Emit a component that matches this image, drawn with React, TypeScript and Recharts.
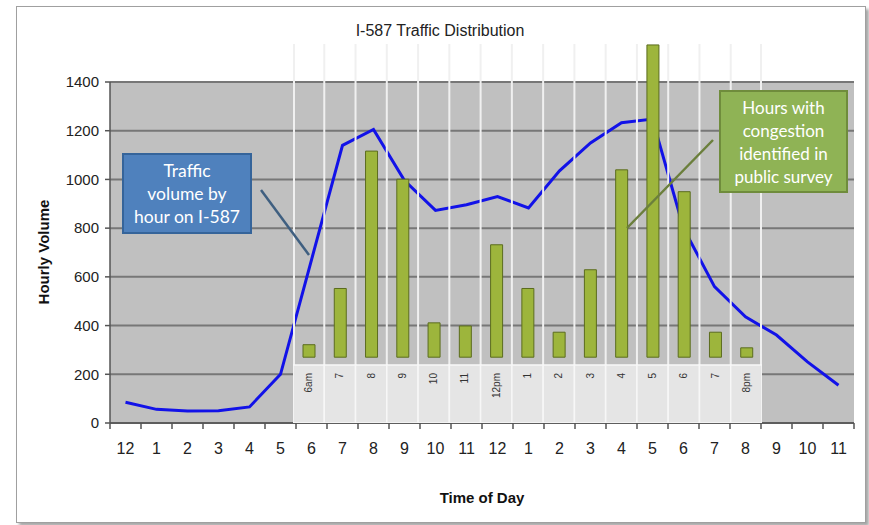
import { ComposedChart, Line, Bar, XAxis, YAxis, CartesianGrid } from 'recharts';

// Hourly traffic on I-587 (line) and survey congestion hours (bars)
const HOURS = ['12', '1', '2', '3', '4', '5', '6', '7', '8', '9', '10', '11', '12', '1', '2', '3', '4', '5', '6', '7', '8', '9', '10', '11'];
const VOLUME = [85, 56, 49, 50, 66, 200, 670, 1140, 1205, 995, 873, 896, 930, 883, 1035, 1150, 1233, 1248, 800, 560, 436, 361, 251, 155];
const Y_TICKS = [0, 200, 400, 600, 800, 1000, 1200, 1400];

const SURVEY_LABELS = ['6am', '7', '8', '9', '10', '11', '12pm', '1', '2', '3', '4', '5', '6', '7', '8pm'];
const SURVEY_SHARE = [4, 22, 66, 57, 11, 10, 36, 22, 8, 28, 60, 100, 53, 8, 3];

const FONT = '"Liberation Sans", Arial, sans-serif';
const CALLOUT_FONT = 'Lato, "Open Sans", sans-serif';

const volumeData = HOURS.map((h, i) => ({ hour: `${h}-${i}`, label: h, volume: VOLUME[i] }));
const surveyData = SURVEY_LABELS.map((l, i) => ({ label: `${l}-${i}`, text: l, share: SURVEY_SHARE[i] }));

const MAIN_BAND = 744 / HOURS.length;
const OVER_W = 469;
const OVER_H = 379;
const OVER_BAND = OVER_W / SURVEY_LABELS.length;

function HourTick({ x, y, payload, index }: any) {
  const half = MAIN_BAND / 2;
  return (
    <g>
      <line x1={x - half} x2={x - half} y1={y} y2={y + 6} stroke="#555" strokeWidth={1.5} />
      {index === HOURS.length - 1 && (
        <line x1={x + half} x2={x + half} y1={y} y2={y + 6} stroke="#555" strokeWidth={1.5} />
      )}
      <text x={x} y={y + 31} textAnchor="middle" fontSize={16} fill="#222" fontFamily={FONT}>
        {volumeData[index]?.label ?? payload.value}
      </text>
    </g>
  );
}

function SurveyTick({ x, y, index }: any) {
  const half = OVER_BAND / 2;
  return (
    <g>
      <rect x={x - half} y={y} width={OVER_BAND} height={58} fill="#e5e5e5" stroke="#f7f7f7" strokeWidth={1.5} />
      <text
        transform={`translate(${x},${y + 8}) rotate(-90)`}
        textAnchor="end"
        dominantBaseline="central"
        fontSize={10}
        fill="#333"
        fontFamily={FONT}
      >
        {surveyData[index]?.text}
      </text>
    </g>
  );
}

export default function App() {
  return (
    <div style={{ position: 'absolute', left: 0, top: 0, width: 869, height: 525, background: '#fff', fontFamily: FONT }}>
      <div
        style={{
          position: 'absolute', left: 16, top: 6, width: 848, height: 515,
          border: '1px solid #a0a0a0', boxShadow: '3px 3px 3px rgba(0,0,0,0.35)',
        }}
      />
      <div style={{ position: 'absolute', left: 0, top: 0 }}>
        <ComposedChart width={869} height={525} data={volumeData} margin={{ top: 82, right: 15, left: 50, bottom: 72 }}>
          <CartesianGrid fill="#c0c0c0" vertical={false} stroke="#777" strokeWidth={2} />
          <XAxis
            dataKey="hour"
            scale="band"
            interval={0}
            tickLine={false}
            tickSize={0}
            tickMargin={0}
            height={30}
            axisLine={{ stroke: '#555', strokeWidth: 1.5 }}
            tick={<HourTick />}
          />
          <YAxis
            domain={[0, 1400]}
            ticks={Y_TICKS}
            width={60}
            tickSize={5}
            tickMargin={6}
            tick={{ fontSize: 15, fill: '#222', fontFamily: FONT }}
            tickLine={{ stroke: '#555', strokeWidth: 1.5 }}
            axisLine={{ stroke: '#555', strokeWidth: 1.5 }}
          />
          <Line dataKey="volume" stroke="#1212e8" strokeWidth={3} dot={false} isAnimationActive={false} />
        </ComposedChart>
      </div>

      <div style={{ position: 'absolute', left: 293, top: 44 }}>
        <ComposedChart width={OVER_W} height={OVER_H} data={surveyData} margin={{ top: 0, right: 0, left: 0, bottom: 0 }}>
          <CartesianGrid
            horizontal={false}
            stroke="#f0f0f0"
            strokeWidth={2}
            verticalCoordinatesGenerator={() =>
              Array.from({ length: SURVEY_LABELS.length + 1 }, (_, i) => Math.min(Math.max(i * OVER_BAND, 1), OVER_W - 1))
            }
          />
          <XAxis
            dataKey="label"
            interval={0}
            height={58}
            tickLine={false}
            tickSize={0}
            tickMargin={0}
            axisLine={false}
            tick={<SurveyTick />}
          />
          <YAxis hide domain={[-2.5, 100.3]} />
          <Bar dataKey="share" barSize={12} fill="#9db53c" stroke="#5b6c1e" strokeWidth={1} isAnimationActive={false} />
        </ComposedChart>
      </div>

      <svg width={869} height={525} style={{ position: 'absolute', left: 0, top: 0, pointerEvents: 'none' }}>
        <text x={440} y={36} textAnchor="middle" fontSize={16} fill="#222" fontFamily={FONT}>
          I-587 Traffic Distribution
        </text>
        <text
          transform="translate(49,252) rotate(-90)"
          textAnchor="middle"
          fontSize={15}
          fontWeight="bold"
          fill="#111"
          fontFamily={FONT}
        >
          Hourly Volume
        </text>
        <text x={482} y={503} textAnchor="middle" fontSize={15} fontWeight="bold" fill="#111" fontFamily={FONT}>
          Time of Day
        </text>
        <line x1={261} y1={190} x2={309} y2={255} stroke="#3f5f80" strokeWidth={2.5} />
        <line x1={627} y1={228} x2={713} y2={140} stroke="#6b7f3c" strokeWidth={2.5} />
      </svg>

      <div
        style={{
          position: 'absolute', left: 122, top: 153, width: 126, height: 77,
          background: '#4f81bd', border: '2px solid #35649a', color: '#fff',
          fontFamily: CALLOUT_FONT, fontSize: 17.5, lineHeight: '23px', textAlign: 'center',
          display: 'flex', alignItems: 'center', justifyContent: 'center',
        }}
      >
        <div>Traffic<br />volume by<br />hour on I-587</div>
      </div>
      <div
        style={{
          position: 'absolute', left: 719, top: 90, width: 125, height: 99,
          background: '#8fb355', border: '2px solid #6f8c3c', color: '#fff',
          fontFamily: CALLOUT_FONT, fontSize: 17, lineHeight: '23px', textAlign: 'center',
          display: 'flex', alignItems: 'center', justifyContent: 'center',
        }}
      >
        <div>Hours with<br />congestion<br />identified in<br />public survey</div>
      </div>
    </div>
  );
}
